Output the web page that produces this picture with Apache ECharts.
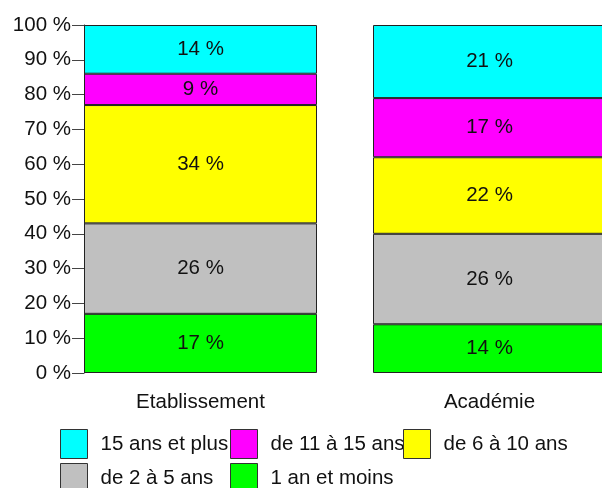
<!DOCTYPE html>
<html>
<head>
<meta charset="utf-8">
<script src="https://cdn.jsdelivr.net/npm/echarts@6/dist/echarts.min.js"></script>
<style>html,body{margin:0;padding:0;background:#fff}#c{width:602px;height:488px}</style>
</head>
<body>
<div id="c"></div>
<script>
const categories = ['Etablissement', 'Académie'];
const seriesNames = ['1 an et moins', 'de 2 à 5 ans', 'de 6 à 10 ans', 'de 11 à 15 ans', '15 ans et plus'];
const unMoins = [17, 14];
const deux5 = [26, 26];
const six10 = [34, 22];
const onze15 = [9, 17];
const plus15 = [14, 21];
const colors = ['#00FF00', '#C0C0C0', '#FFFF00', '#FF00FF', '#00FFFF'];
const yTicks = [0, 10, 20, 30, 40, 50, 60, 70, 80, 90, 100];

const values = [unMoins, deux5, six10, onze15, plus15];
const FONT = 'Liberation Sans, Arial, sans-serif';
const FS = 20.5;

const chart = echarts.init(document.getElementById('c'), null, {renderer: 'canvas'});

const legendPos = [
  {name: '15 ans et plus', left: 60, top: 429},
  {name: 'de 11 à 15 ans', left: 230, top: 429},
  {name: 'de 6 à 10 ans', left: 403, top: 429},
  {name: 'de 2 à 5 ans', left: 60, top: 463},
  {name: '1 an et moins', left: 230, top: 463}
];

chart.setOption({
  animation: false,
  grid: {left: 56, width: 578, top: 25, bottom: 115, containLabel: false, outerBoundsMode: 'none'},
  xAxis: {
    type: 'category',
    data: categories,
    axisLine: {show: false},
    axisTick: {show: false},
    axisLabel: {color: '#111', fontSize: FS, fontFamily: FONT, margin: 19}
  },
  yAxis: {
    type: 'value',
    min: yTicks[0], max: yTicks[yTicks.length - 1], interval: 10,
    offset: -28,
    splitLine: {show: false},
    axisLine: {show: true, lineStyle: {color: '#222', width: 1}},
    axisTick: {show: true, length: 12, lineStyle: {color: '#444'}},
    axisLabel: {formatter: '{value} %', color: '#111', fontSize: FS, fontFamily: FONT, margin: 13}
  },
  legend: legendPos.map(l => ({
    data: [{name: l.name, icon: 'rect'}], left: l.left, top: l.top, padding: 0,
    itemWidth: 27, itemHeight: 29, selectedMode: false,
    itemStyle: {borderColor: '#333', borderWidth: 1},
    textStyle: {color: '#111', fontSize: FS, fontFamily: FONT, padding: [0, 0, 0, 8]}
  })),
  series: seriesNames.map((n, i) => ({
    name: n,
    type: 'bar',
    stack: 'total',
    barWidth: 233,
    data: values[i],
    itemStyle: {color: colors[i], borderColor: '#222', borderWidth: 1},
    label: {show: true, position: 'inside', formatter: '{c} %', color: '#111', fontSize: FS, fontFamily: FONT}
  }))
});
</script>
</body>
</html>
